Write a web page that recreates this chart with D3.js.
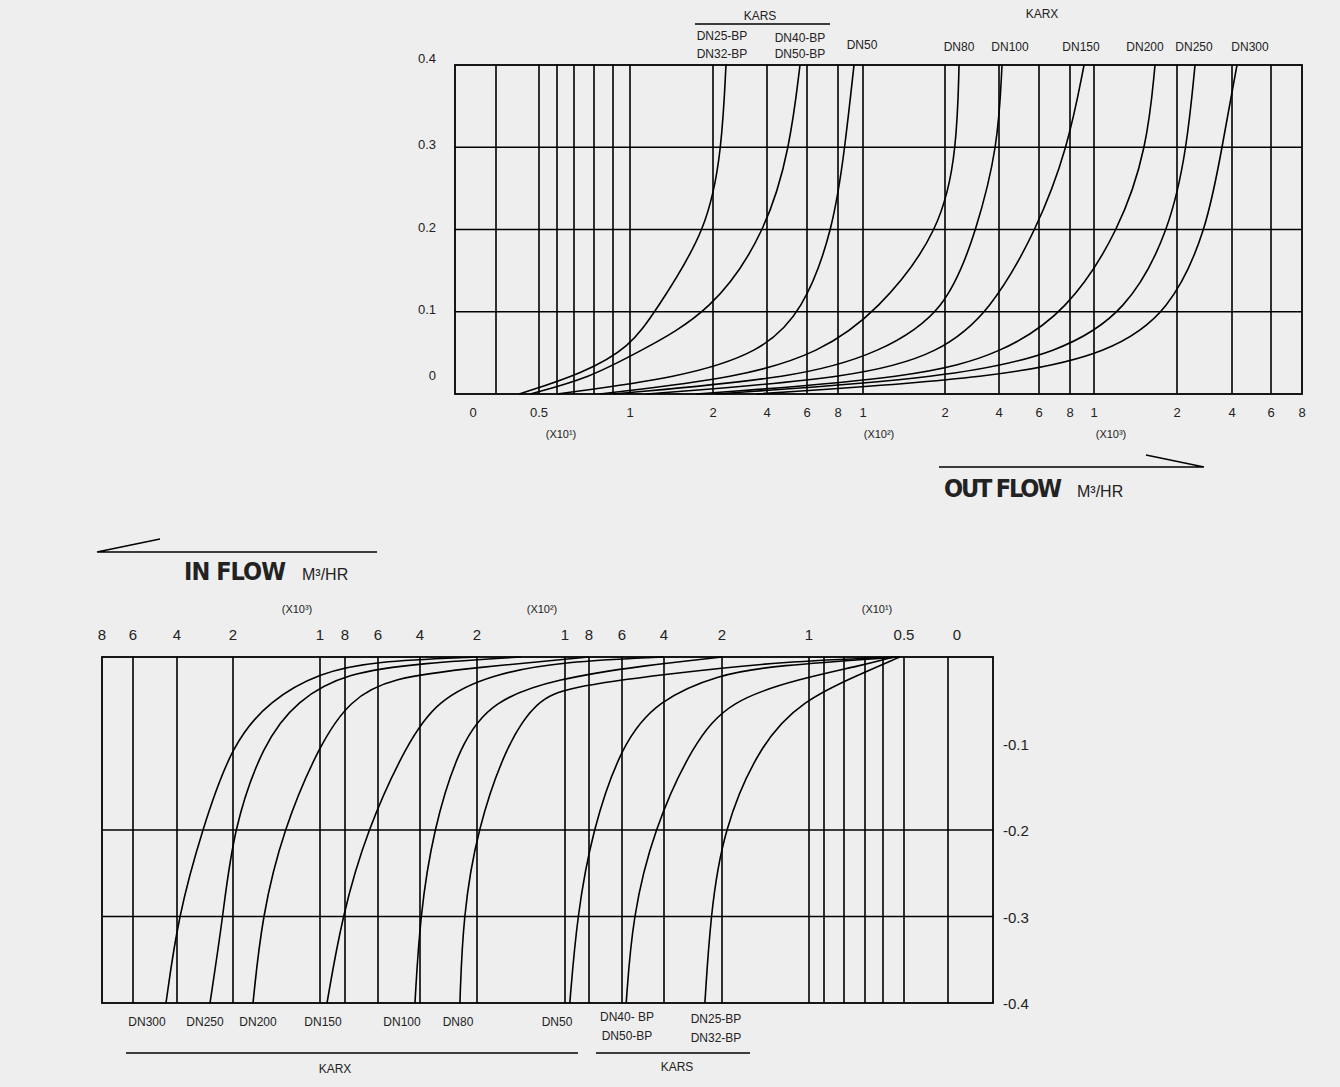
<!DOCTYPE html>
<html><head><meta charset="utf-8">
<script src="https://cdn.jsdelivr.net/npm/d3@7"></script>
<style>body{margin:0;background:#eeeeee;}svg{display:block;}text{font-family:"Liberation Sans",Arial,sans-serif;fill:#222;}</style>
</head><body>
<svg id="c" width="1340" height="1087"></svg>
<script>
// ---------- DATA ----------
const topGridFlows = [0,5,6,7,8,9,10,20,40,60,80,100,200,400,600,800,1000,2000,4000,6000,8000];
const topTickFlows = [0,5,10,20,40,60,80,100,200,400,600,800,1000,2000,4000,6000,8000];
const topTickLabels = ["0","0.5","1","2","4","6","8","1","2","4","6","8","1","2","4","6","8"];
const topPressTicks = [0,0.1,0.2,0.3,0.4];
const botGridFlows = [0,5,6,7,8,9,10,20,40,60,80,100,200,400,600,800,1000,2000,4000,6000,8000];
const botTickFlows = [0,5,10,20,40,60,80,100,200,400,600,800,1000,2000,4000,6000,8000];
const botTickLabels = ["0","0.5","1","2","4","6","8","1","2","4","6","8","1","2","4","6","8"];
const botPressTicks = [-0.1,-0.2,-0.3,-0.4];
const botGridPress = [-0.2,-0.3];
const outFlowNames = ["DN25/32-BP","DN40/50-BP","DN50","DN80","DN100","DN150","DN200","DN250","DN300"];
// [flow, pressure] pairs per curve
const outFlowCurves = [
 [[2.7,0],[7.45,0.025],[10,0.057],[13,0.1],[19.4,0.2],[23.3,0.3],[24.8,0.4]],
 [[4,0],[7.8,0.02],[10.8,0.05],[20,0.1],[40,0.2],[51.5,0.3],[56.5,0.4]],
 [[6,0],[16,0.02],[37.4,0.05],[58,0.1],[76.9,0.2],[85.6,0.3],[92.8,0.4]],
 [[8.3,0],[30,0.02],[68,0.05],[118,0.1],[196,0.2],[244,0.3],[252,0.4]],
 [[9,0],[56,0.02],[120,0.05],[205,0.1],[318,0.2],[396,0.3],[415,0.4]],
 [[12,0],[96,0.02],[194,0.05],[367,0.1],[590,0.2],[787,0.3],[917,0.4]],
 [[18,0],[167,0.02],[420,0.05],[781,0.1],[1313,0.2],[1640,0.3],[1735,0.4]],
 [[21,0],[222,0.02],[733,0.05],[1400,0.1],[1916,0.2],[2364,0.3],[2655,0.4]],
 [[36,0],[420,0.02],[1193,0.05],[1916,0.1],[3090,0.2],[3636,0.3],[4256,0.4]]
];
const inFlowCurves = [
 [[4500,-0.4],[3960,-0.3],[3107,-0.2],[2036,-0.1],[1575,-0.05],[1000,-0.018],[630,-0.005],[200,0]],
 [[2821,-0.4],[2357,-0.3],[2000,-0.2],[1655,-0.1],[1264,-0.05],[790,-0.018],[390,-0.007],[150,0]],
 [[1770,-0.4],[1667,-0.3],[1425,-0.2],[1000,-0.1],[770,-0.05],[543,-0.024],[200,-0.012],[80,0]],
 [[944,-0.4],[824,-0.3],[667,-0.2],[462,-0.1],[340,-0.05],[185,-0.02],[100,-0.005],[40,0]],
 [[424,-0.4],[400,-0.3],[354,-0.2],[260,-0.1],[182,-0.05],[109,-0.025],[50,-0.01],[20,0]],
 [[260,-0.4],[249,-0.3],[200,-0.2],[166,-0.1],[132,-0.05],[98,-0.035],[40,-0.02],[13,-0.005],[5.2,0]],
 [[96,-0.4],[90,-0.3],[78,-0.2],[60,-0.1],[43,-0.05],[21,-0.02],[14,-0.01],[5.2,0]],
 [[58,-0.4],[55,-0.3],[45,-0.2],[30,-0.1],[19.1,-0.05],[11,-0.025],[7.2,-0.01],[5.5,0]],
 [[25.9,-0.4],[24,-0.3],[19.9,-0.2],[15.6,-0.1],[10.7,-0.05],[7.25,-0.02],[5.2,0]]
];

// ---------- LAYOUT ----------
const svg = d3.select("#c");
const T = {l:455,r:1302,t:65,b:394};
const B = {l:102,r:993,t:657,b:1003};
// piecewise layout of the non-uniform flow axes
const xTop = d3.scaleLinear().domain(topGridFlows)
  .range([496,539,557,574,594,613,630,713,767,807,838,863,945,999,1039,1070,1094,1177,1232,1271,1302]);
const yTop = d3.scaleLinear().domain([0,0.4]).range([T.b,T.t]);
const xBot = d3.scaleLinear().domain(botGridFlows)
  .range([948,904,883,865,844,824,809,722,664,622,589,565,477,420,378,345,320,233,177,133,102]);
const yBot = d3.scaleLinear().domain([0,-0.4]).range([B.t,B.b]);

const stroke = "#000";
function grid(g, xs, xVals, ys, yVals, box){
  g.selectAll(".v").data(xVals).enter().append("line")
   .attr("x1",d=>xs(d)).attr("x2",d=>xs(d)).attr("y1",box.t).attr("y2",box.b)
   .attr("stroke",stroke).attr("stroke-width",1.6);
  g.selectAll(".h").data(yVals).enter().append("line")
   .attr("y1",d=>ys(d)).attr("y2",d=>ys(d)).attr("x1",box.l).attr("x2",box.r)
   .attr("stroke",stroke).attr("stroke-width",1.6);
  g.append("rect").attr("x",box.l).attr("y",box.t).attr("width",box.r-box.l).attr("height",box.b-box.t)
   .attr("fill","none").attr("stroke",stroke).attr("stroke-width",1.8);
}
const gT = svg.append("g");
grid(gT, xTop, topGridFlows.filter(d=>d!==8000), yTop, [0.1,0.2,0.3], T);
const gB = svg.append("g");
grid(gB, xBot, botGridFlows.filter(d=>d!==8000), yBot, botGridPress, B);

function curves(g, data, xs, ys){
  const line = d3.line().x(d=>xs(d[0])).y(d=>ys(d[1])).curve(d3.curveBasis);
  data.forEach(c=>{
    const pts = c.slice().sort((a,b)=>a[1]-b[1]);
    g.append("path").attr("d",line(pts)).attr("fill","none").attr("stroke",stroke).attr("stroke-width",1.6);
  });
}
curves(gT, outFlowCurves, xTop, yTop);
curves(gB, inFlowCurves, xBot, yBot);

// ---------- TEXT ----------
function txt(x,y,s,size,opts={}){
  const t = svg.append("text").attr("x",x).attr("y",y).attr("font-size",size)
    .attr("text-anchor",opts.anchor||"middle").text(s);
  if(opts.bold) t.attr("font-weight","bold");
  if(opts.family) t.style("font-family",opts.family);
  return t;
}
topTickFlows.forEach((v,i)=>{
  const x = v===0 ? xTop(v)-23 : xTop(v);
  txt(x,417,topTickLabels[i],13);
});
topPressTicks.forEach(v=>{
  const off = v===0?-14:(v===0.4?-2:2);
  txt(436,yTop(v)+off,String(v),13,{anchor:"end"});
});
[["(X10¹)",561],["(X10²)",879],["(X10³)",1111]].forEach(d=>txt(d[1],438,d[0],11));
botTickFlows.forEach((v,i)=>{
  const x = v===0 ? xBot(v)+9 : xBot(v);
  txt(x,640,botTickLabels[i],15);
});
botPressTicks.forEach(v=>txt(1003,yBot(v)+6,String(v),15,{anchor:"start"}));
[["(X10³)",297],["(X10²)",542],["(X10¹)",877]].forEach(d=>txt(d[1],613,d[0],11));

txt(760,20,"KARS",12);
svg.append("line").attr("x1",695).attr("x2",830).attr("y1",24).attr("y2",24).attr("stroke",stroke).attr("stroke-width",1.6);
txt(722,40,"DN25-BP",12); txt(722,58,"DN32-BP",12);
txt(800,42,"DN40-BP",12); txt(800,58,"DN50-BP",12);
txt(862,49,"DN50",12);
txt(1042,18,"KARX",12);
[["DN80",959],["DN100",1010],["DN150",1081],["DN200",1145],["DN250",1194],["DN300",1250]].forEach(d=>txt(d[1],51,d[0],12));
[["DN300",147],["DN250",205],["DN200",258],["DN150",323],["DN100",402],["DN80",458],["DN50",557]].forEach(d=>txt(d[1],1026,d[0],12));
txt(627,1021,"DN40- BP",12); txt(627,1040,"DN50-BP",12);
txt(716,1023,"DN25-BP",12); txt(716,1042,"DN32-BP",12);
svg.append("line").attr("x1",126).attr("x2",578).attr("y1",1053).attr("y2",1053).attr("stroke",stroke).attr("stroke-width",1.6);
svg.append("line").attr("x1",596).attr("x2",750).attr("y1",1053).attr("y2",1053).attr("stroke",stroke).attr("stroke-width",1.6);
txt(335,1073,"KARX",12); txt(677,1071,"KARS",12);

svg.append("path").attr("d","M939,467H1204L1146,455").attr("fill","none").attr("stroke",stroke).attr("stroke-width",1.5);
txt(944,497,"OUT FLOW",25,{anchor:"start",bold:true,family:"'DejaVu Sans Condensed','Roboto Condensed',sans-serif"}).attr("textLength",118);
txt(1077,497,"M³/HR",16,{anchor:"start"});
svg.append("path").attr("d","M377,552H97L160,539").attr("fill","none").attr("stroke",stroke).attr("stroke-width",1.5);
txt(184,580,"IN FLOW",25,{anchor:"start",bold:true,family:"'DejaVu Sans Condensed','Roboto Condensed',sans-serif"}).attr("textLength",102);
txt(302,580,"M³/HR",16,{anchor:"start"});
</script>
</body></html>
